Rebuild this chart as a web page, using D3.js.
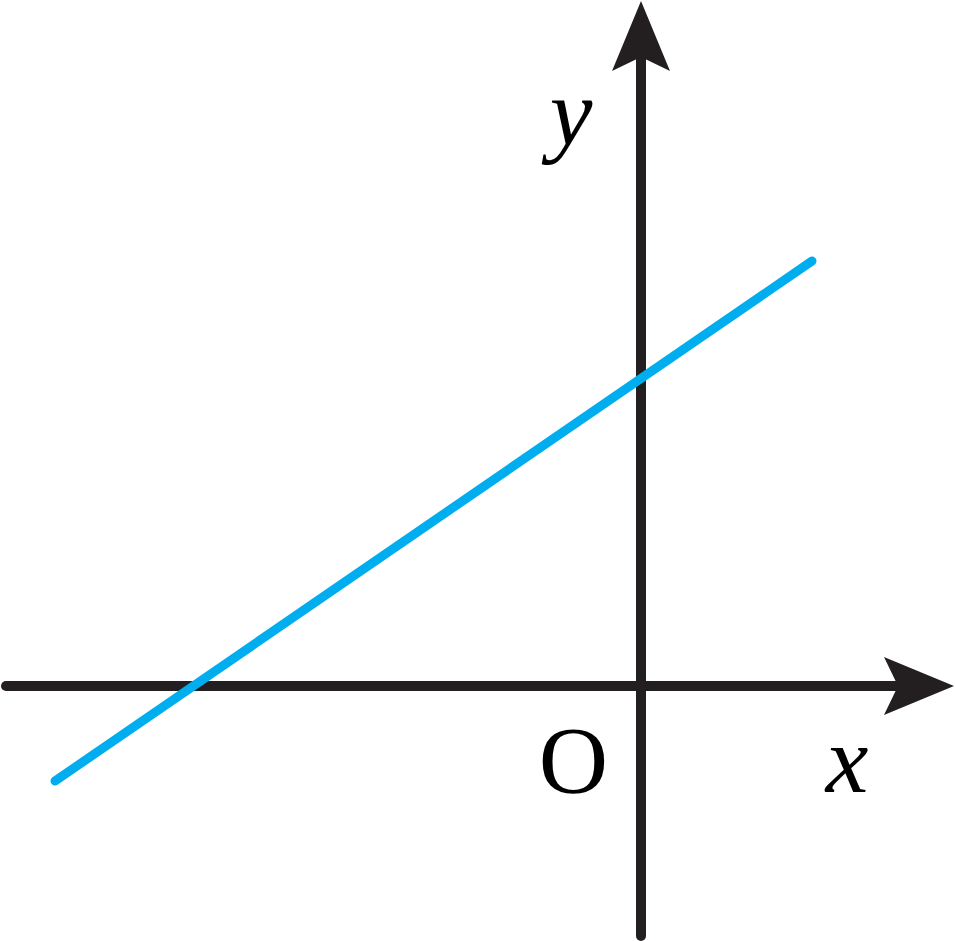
<!DOCTYPE html>
<html>
<head>
<meta charset="utf-8">
<script src="https://cdn.jsdelivr.net/npm/d3@7"></script>
<style>
  html, body { margin: 0; padding: 0; background: #fff; }
  svg { display: block; }
</style>
</head>
<body>
<svg id="chart" width="955" height="941"></svg>
<script>
// Data (units: 1 = 100px in the reference)
const xDomain = [-6.4, 3.15];
const yDomain = [-2.55, 6.86];
const linePoints = [ { x: -5.86, y: -0.95 }, { x: 1.71, y: 4.25 } ];
const xAxisExtent = [-6.35, 3.13];   // left end, arrow tip
const yAxisExtent = [-2.50, 6.85];   // bottom end, arrow tip
const axisLabels = [
  { text: "x", x: 2.06, y: -1.06, italic: true },
  { text: "y", x: -0.70, y: 5.41, italic: true },
  { text: "O", x: -0.675, y: -1.07, italic: false }
];

const W = 955, H = 941;
const axisColor = "#231F20";
const lineColor = "#00AEEF";

const x = d3.scaleLinear().domain(xDomain).range([1, 956]);
const y = d3.scaleLinear().domain(yDomain).range([941, 0]);

const svg = d3.select("#chart");

// arrow geometry (pixels): tip at 0, wings back 70, half-width 29, notch back 56
const AL = 70, AW = 29, AN = 56;

// x axis
const x0 = x(xAxisExtent[0]), xTip = x(xAxisExtent[1]), yO = y(0);
svg.append("line")
  .attr("x1", x0).attr("y1", yO).attr("x2", xTip - AN + 2).attr("y2", yO)
  .attr("stroke", axisColor).attr("stroke-width", 10).attr("stroke-linecap", "round");
svg.append("path")
  .attr("d", `M${xTip},${yO} L${xTip - AL},${yO - AW} L${xTip - AN},${yO} L${xTip - AL},${yO + AW} Z`)
  .attr("fill", axisColor);

// y axis
const xO = x(0), y0 = y(yAxisExtent[0]), yTip = y(yAxisExtent[1]);
svg.append("line")
  .attr("x1", xO).attr("y1", y0).attr("x2", xO).attr("y2", yTip + AN - 2)
  .attr("stroke", axisColor).attr("stroke-width", 10).attr("stroke-linecap", "round");
svg.append("path")
  .attr("d", `M${xO},${yTip} L${xO - AW},${yTip + AL} L${xO},${yTip + AN} L${xO + AW},${yTip + AL} Z`)
  .attr("fill", axisColor);

// blue line
svg.append("path")
  .datum(linePoints)
  .attr("d", d3.line().x(d => x(d.x)).y(d => y(d.y)))
  .attr("fill", "none")
  .attr("stroke", lineColor)
  .attr("stroke-width", 9)
  .attr("stroke-linecap", "round");

// labels
svg.selectAll("text.lbl")
  .data(axisLabels)
  .join("text")
  .attr("class", "lbl")
  .attr("x", d => x(d.x))
  .attr("y", d => y(d.y))
  .attr("text-anchor", "middle")
  .attr("font-family", "'Liberation Serif', 'DejaVu Serif', serif")
  .attr("font-style", d => d.italic ? "italic" : "normal")
  .attr("font-size", 96)
  .attr("fill", "#000")
  .text(d => d.text);
</script>
</body>
</html>
